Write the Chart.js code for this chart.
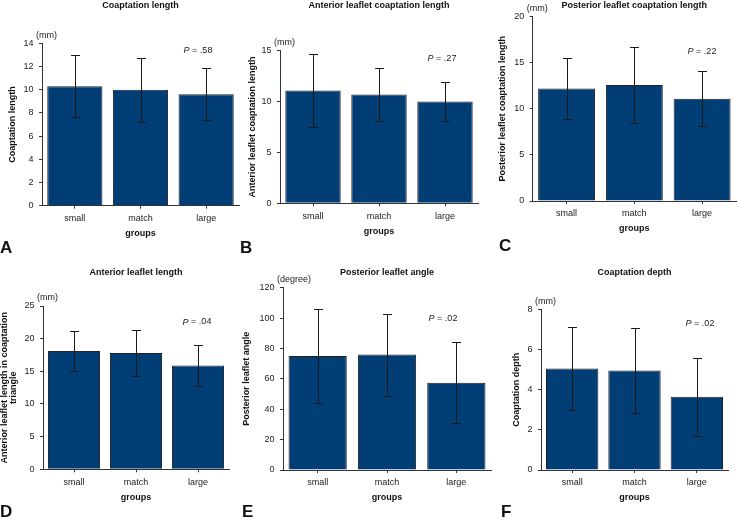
<!DOCTYPE html>
<html><head><meta charset="utf-8">
<script src="https://cdn.jsdelivr.net/npm/chart.js@4"></script>
<style>
html,body{margin:0;padding:0;background:#fff;}
#wrap{position:relative;width:738px;height:524px;overflow:hidden;font-family:'Liberation Sans',Arial,sans-serif;}
.panel{position:absolute;}
.letter{position:absolute;font-weight:bold;font-size:17px;line-height:17px;color:#111;}
</style></head><body>
<div id="wrap"></div>
<script>
// ---------- data ----------
const groupLabels = ['small', 'match', 'large'];
const xAxisTitle = 'groups';

const coaptationLengthMean = [10.3, 10.0, 9.6];
const coaptationLengthSD   = [2.65, 2.75, 2.25];
const antCoaptationMean    = [11.1, 10.7, 10.0];
const antCoaptationSD      = [3.6, 2.6, 1.9];
const postCoaptationMean   = [12.2, 12.6, 11.1];
const postCoaptationSD     = [3.3, 4.1, 3.0];
const antLeafletMean       = [18.1, 17.8, 15.9];
const antLeafletSD         = [3.1, 3.55, 3.1];
const postAngleMean        = [75, 76, 57.5];
const postAngleSD          = [31, 27, 26.5];
const coaptDepthMean       = [5.05, 4.95, 3.65];
const coaptDepthSD         = [2.05, 2.1, 1.95];

const yMaxes     = [14, 15, 20, 25, 120, 8];
const yTickSteps = [2, 5, 5, 5, 20, 2];

const chartTitles = ['Coaptation length', 'Anterior leaflet coaptation length', 'Posterior leaflet coaptation length',
                     'Anterior leaflet length', 'Posterior leaflet angle', 'Coaptation depth'];
const yAxisTitles = ['Coaptation length', 'Anterior leaflet coaptation length', 'Posterior leaflet coaptation length',
                     ['Anterior leaflet length in coaptation', 'triangle'], 'Posterior leaflet angle', 'Coaptation depth'];
const unitLabels  = ['(mm)', '(mm)', '(mm)', '(mm)', '(degree)', '(mm)'];
const pLabels     = ['.58', '.27', '.22', '.04', '.02', '.02'];
const panelLetters = ['A', 'B', 'C', 'D', 'E', 'F'];

const means = [coaptationLengthMean, antCoaptationMean, postCoaptationMean, antLeafletMean, postAngleMean, coaptDepthMean];
const sds   = [coaptationLengthSD, antCoaptationSD, postCoaptationSD, antLeafletSD, postAngleSD, coaptDepthSD];

// ---------- layout (positions / styles) ----------
const layoutCfg = [
  {left:0,   top:0,   w:245, h:262, tTop:0,   tBot:32.5, yW:42,   yTPad:7.1,  yTLH:1.2, pr:6,  pb:20.3, pDx:-41, pDy:7,   lx:0,   ly:239},
  {left:245, top:0,   w:245, h:262, tTop:0,   tBot:39.9, yW:35,   yTPad:2.3,  yTLH:1.2, pr:12, pb:22.7, pDx:-36, pDy:7.6, lx:240, ly:239},
  {left:490, top:0,   w:248, h:262, tTop:0,   tBot:5.9,  yW:42.7, yTPad:7.3,  yTLH:1.2, pr:2,  pb:25,   pDx:-34, pDy:35,  lx:499, ly:237},
  {left:0,   top:262, w:240, h:262, tTop:5.6, tBot:27.6, yW:43,   yTPad:0.5,  yTLH:1.0, pr:11, pb:18.7, pDx:-32, pDy:16,  lx:0,   ly:503},
  {left:240, top:262, w:255, h:262, tTop:5.6, tBot:9.3,  yW:43,   yTPad:1.6,  yTLH:1.2, pr:4,  pb:18,   pDx:-48, pDy:31,  lx:242, ly:503},
  {left:495, top:262, w:243, h:262, tTop:5.6, tBot:30.9, yW:46,   yTPad:16.6, yTLH:1.2, pr:10, pb:18,   pDx:-28, pDy:14,  lx:501, ly:503}
];

const FONT = "'Liberation Sans', Arial, sans-serif";
const BAR_COLOR = '#003e75';
const AXIS_COLOR = '#333333';
const TEXT_COLOR = '#222222';

Chart.defaults.font.family = FONT;
Chart.defaults.color = TEXT_COLOR;

function makeErrorBarPlugin(sd) {
  return {
    id: 'errorBars',
    afterDatasetsDraw(chart) {
      const ctx = chart.ctx;
      const ds = chart.data.datasets[0];
      const meta = chart.getDatasetMeta(0);
      const ys = chart.scales.y;
      ctx.save();
      ctx.strokeStyle = '#1a1a1a';
      ctx.lineWidth = 1;
      meta.data.forEach((bar, i) => {
        const x = Math.round(bar.x) + 0.5;
        const yHi = Math.round(ys.getPixelForValue(ds.data[i] + sd[i])) + 0.5;
        const yLo = Math.round(ys.getPixelForValue(ds.data[i] - sd[i])) + 0.5;
        ctx.beginPath();
        ctx.moveTo(x, yHi); ctx.lineTo(x, yLo);
        ctx.moveTo(x - 4.5, yHi); ctx.lineTo(x + 4.5, yHi);
        ctx.moveTo(x - 4.5, yLo); ctx.lineTo(x + 4.5, yLo);
        ctx.stroke();
      });
      ctx.restore();
    }
  };
}

function makeAnnotPlugin(unit, pText, cfg) {
  return {
    id: 'annots',
    afterDraw(chart) {
      const ctx = chart.ctx;
      const a = chart.chartArea;
      ctx.save();
      ctx.fillStyle = TEXT_COLOR;
      ctx.textBaseline = 'middle';
      ctx.textAlign = 'left';
      ctx.font = '9px ' + FONT;
      ctx.fillText(unit, a.left - 6, a.top - 8);
      // P label
      const cx = a.right + cfg.pDx, cy = a.top + cfg.pDy;
      ctx.font = 'italic 9px ' + FONT;
      const wP = ctx.measureText('P').width;
      ctx.font = '9px ' + FONT;
      const rest = ' = ' + pText;
      const wR = ctx.measureText(rest).width;
      const x0 = cx - (wP + wR) / 2;
      ctx.font = 'italic 9px ' + FONT;
      ctx.fillText('P', x0, cy);
      ctx.font = '9px ' + FONT;
      ctx.fillText(rest, x0 + wP, cy);
      ctx.restore();
    }
  };
}

const wrap = document.getElementById('wrap');
layoutCfg.forEach((cfg, k) => {
  const div = document.createElement('div');
  div.className = 'panel';
  div.style.left = cfg.left + 'px';
  div.style.top = cfg.top + 'px';
  div.style.width = cfg.w + 'px';
  div.style.height = cfg.h + 'px';
  const cv = document.createElement('canvas');
  cv.width = cfg.w; cv.height = cfg.h;
  cv.style.width = cfg.w + 'px'; cv.style.height = cfg.h + 'px';
  div.appendChild(cv);
  wrap.appendChild(div);

  const letter = document.createElement('div');
  letter.className = 'letter';
  letter.textContent = panelLetters[k];
  letter.style.left = cfg.lx + 'px';
  letter.style.top = cfg.ly + 'px';
  wrap.appendChild(letter);

  new Chart(cv.getContext('2d'), {
    type: 'bar',
    data: {
      labels: groupLabels,
      datasets: [{
        data: means[k],
        backgroundColor: BAR_COLOR,
        borderColor: '#222222',
        borderWidth: 1,
        categoryPercentage: 1.0,
        barPercentage: 0.84
      }]
    },
    options: {
      responsive: false,
      animation: false,
      devicePixelRatio: 1,
      layout: { padding: { left: 0, right: cfg.pr, top: 0, bottom: cfg.pb } },
      plugins: {
        legend: { display: false },
        tooltip: { enabled: false },
        title: {
          display: true,
          text: chartTitles[k],
          fullSize: false,
          color: '#111',
          font: { size: 9, weight: 'bold', family: FONT, lineHeight: 1.2 },
          padding: { top: cfg.tTop, bottom: cfg.tBot }
        }
      },
      scales: {
        x: {
          grid: { display: true, drawOnChartArea: false, drawTicks: true, tickLength: 3, offset: false, color: AXIS_COLOR },
          border: { display: true, color: AXIS_COLOR, width: 1 },
          ticks: { font: { size: 9 }, color: TEXT_COLOR, padding: 4.6, maxRotation: 0, autoSkip: false },
          title: { display: true, text: xAxisTitle, color: '#111', font: { size: 9, weight: 'bold', lineHeight: 1.2 }, padding: { top: 0, bottom: 2.6 } },
          afterFit(s) { s.height = 36; }
        },
        y: {
          min: 0, max: yMaxes[k],
          grid: { display: true, drawOnChartArea: false, drawTicks: true, tickLength: 3, color: AXIS_COLOR },
          border: { display: true, color: AXIS_COLOR, width: 1 },
          ticks: { stepSize: yTickSteps[k], font: { size: 9 }, color: TEXT_COLOR, padding: 5.5 },
          title: { display: true, text: yAxisTitles[k], color: '#111', font: { size: 9, weight: 'bold', lineHeight: cfg.yTLH }, padding: { top: cfg.yTPad, bottom: 0 } },
          afterFit(s) { s.width = cfg.yW; }
        }
      }
    },
    plugins: [makeErrorBarPlugin(sds[k]), makeAnnotPlugin(unitLabels[k], pLabels[k], cfg)]
  });
});
</script>
</body></html>
